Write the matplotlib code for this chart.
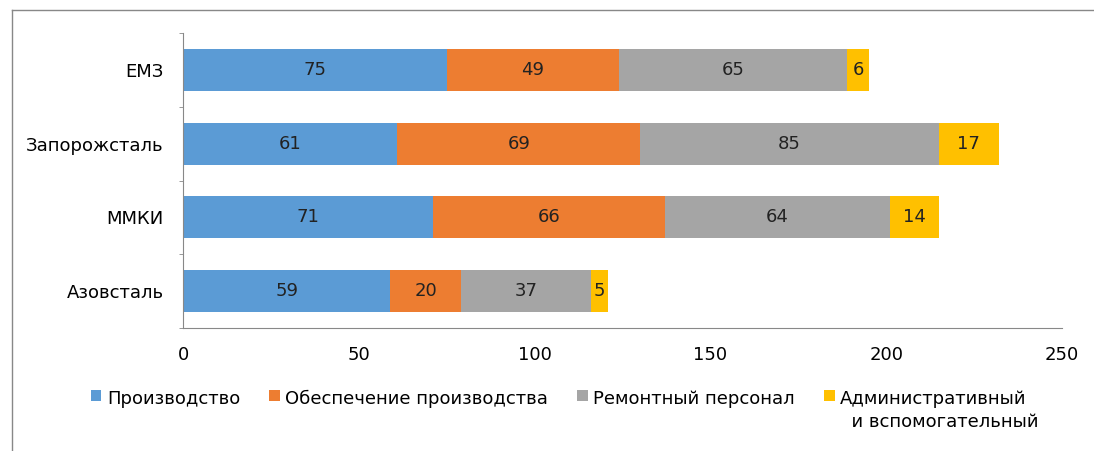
import matplotlib
matplotlib.use("Agg")
from matplotlib import pyplot as plt
from matplotlib.lines import Line2D
import numpy as np

plt.rcParams['font.family'] = ['DejaVu Sans']

plants = ['Азовсталь', 'ММКИ', 'Запорожсталь', 'ЕМЗ']
production = [59, 71, 61, 75]
support = [20, 66, 69, 49]
repair = [37, 64, 85, 65]
admin = [5, 14, 17, 6]

series = [production, support, repair, admin]
names = ['Производство', 'Обеспечение производства', 'Ремонтный персонал',
         'Административный\n  и вспомогательный']
colors = ['#5B9BD5', '#ED7D31', '#A5A5A5', '#FFC000']

fig = plt.figure(figsize=(10.94, 4.51), dpi=100)
ax = fig.add_axes([0.1673, 0.2727, 0.8034, 0.6541])

y = np.arange(len(plants))
left = np.zeros(len(plants))
for vals, name, col in zip(series, names, colors):
    bars = ax.barh(y, vals, left=left, height=0.57, color=col, label=name)
    ax.bar_label(bars, labels=[str(v) for v in vals], label_type='center',
                 fontsize=13, color='#222222')
    left += np.array(vals)

ax.set_xlim(0, 250)
ax.set_ylim(-0.5, len(plants) - 0.5)
ax.set_xticks([0, 50, 100, 150, 200, 250])
ax.set_yticks(y)
ax.set_yticklabels(plants)
ax.set_yticks(np.arange(-0.5, len(plants), 1), minor=True)
ax.tick_params(axis='y', which='major', length=0, pad=14, labelsize=13)
ax.tick_params(axis='y', which='minor', length=3, color='#888888')
ax.tick_params(axis='x', length=0, pad=13, labelsize=13)
for s in ['top', 'right']:
    ax.spines[s].set_visible(False)
for s in ['left', 'bottom']:
    ax.spines[s].set_color('#888888')

leg = fig.legend(loc='upper center', bbox_to_anchor=(0.516, 0.1555), ncol=4,
                 frameon=False, fontsize=13, handlelength=0.6, handleheight=0.6,
                 handletextpad=0.3, columnspacing=1.6, borderpad=0)
for t in leg.get_texts():
    t.set_linespacing(1.4)
# keep the colour squares and all labels level with the first text line
leg._legend_handle_box.align = 'top'
for col in leg._legend_handle_box.get_children():
    col.align = 'top'
    for item in col.get_children():
        item.align = 'top'

# outer chart border (top and left edges)
fig.add_artist(Line2D([12 / 1094, 1], [1 - 10 / 451, 1 - 10 / 451],
                      transform=fig.transFigure, color='#888888', lw=1))
fig.add_artist(Line2D([12 / 1094, 12 / 1094], [0, 1 - 10 / 451],
                      transform=fig.transFigure, color='#888888', lw=1))

fig.savefig('out.png', dpi=100)
